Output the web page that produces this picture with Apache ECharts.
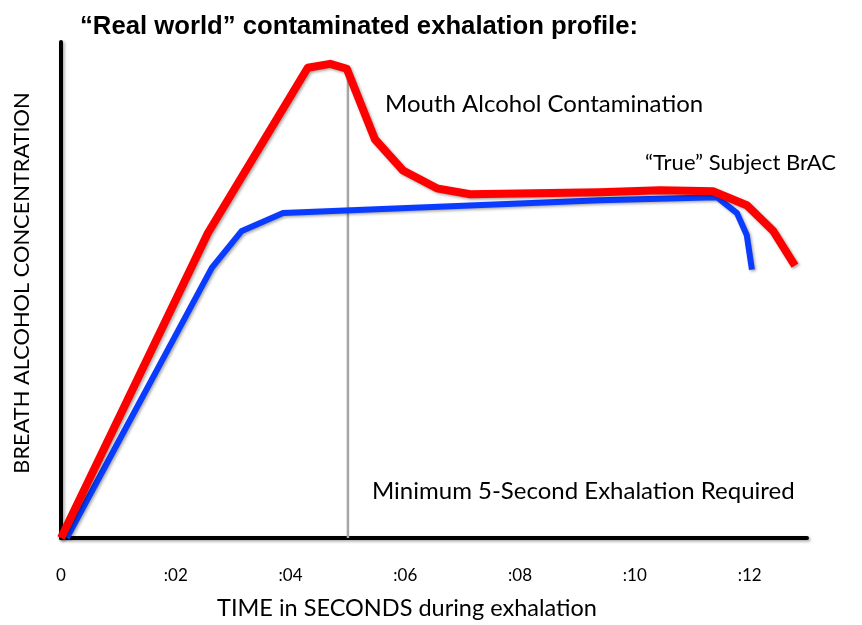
<!DOCTYPE html>
<html>
<head>
<meta charset="utf-8">
<script src="https://cdn.jsdelivr.net/npm/echarts@6/dist/echarts.min.js"></script>
<style>html,body{margin:0;padding:0;background:#fff}#c{width:862px;height:625px}</style>
</head>
<body>
<div id="c"></div>
<script>
// Time (s), concentration (relative units, 0-100)
const redTime = [0, 2.56, 4.30, 4.69, 4.98, 5.47, 5.96, 6.55, 7.13, 9.39, 10.44, 11.36, 11.95, 12.41, 12.79];
const redConc = [0, 61.5, 94.8, 95.6, 94.6, 80.4, 74.1, 70.5, 69.3, 69.7, 70.1, 69.9, 67.1, 61.9, 54.9];
const blueTime = [0.1, 2.63, 3.15, 3.87, 9.39, 11.43, 11.78, 11.95, 12.04];
const blueConc = [0, 54.5, 61.9, 65.5, 68.1, 68.7, 65.5, 61.1, 54.1];
const minTime = [5, 5];
const minConc = [0, 94.6];
const tickValues = [0, 2, 4, 6, 8, 10, 12];
const tickLabels = ['0', ':02', ':04', ':06', ':08', ':10', ':12'];

const zip = (a, b) => a.map((v, i) => [v, b[i]]);
const font = 'Lato, "Open Sans", sans-serif';
const shadow = {shadowColor: 'rgba(0,0,0,0.35)', shadowBlur: 3, shadowOffsetX: 1.5, shadowOffsetY: 1.5};

const chart = echarts.init(document.getElementById('c'));
chart.setOption({
  animation: false,
  backgroundColor: '#fff',
  title: {
    text: '\u201CReal world\u201D contaminated exhalation profile:',
    left: 75, top: 9,
    textStyle: {fontFamily: '"Liberation Sans Narrow", "Liberation Sans", Arial, sans-serif', fontWeight: 'bold', fontSize: 25.7, color: '#000'}
  },
  grid: {left: 61, right: 55, top: 42, bottom: 82},
  xAxis: {
    type: 'value', min: 0, max: 13, interval: 2,
    axisLine: {show: true, onZero: false, lineStyle: Object.assign({color: '#000', width: 4}, shadow)},
    axisTick: {show: false},
    splitLine: {show: false},
    axisLabel: {
      showMaxLabel: false, margin: 29, fontSize: 17, fontFamily: font, color: '#000',
      formatter: v => { const i = tickValues.indexOf(v); return i >= 0 ? tickLabels[i] : ''; }
    },
    name: 'TIME in SECONDS during exhalation',
    nameLocation: 'middle', nameGap: 58,
    nameTextStyle: {fontSize: 23.5, fontFamily: font, color: '#000', padding: [0, 54, 0, 0]}
  },
  yAxis: {
    type: 'value', min: 0, max: 100,
    axisLine: {show: true, onZero: false, lineStyle: Object.assign({color: '#000', width: 4}, shadow)},
    axisTick: {show: false},
    axisLabel: {show: false},
    splitLine: {show: false},
    name: 'BREATH ALCOHOL CONCENTRATION',
    nameLocation: 'middle', nameGap: 28, nameRotate: 90,
    nameTextStyle: {fontSize: 21.8, fontFamily: font, color: '#000', padding: [0, 0, 0, 14]}
  },
  series: [
    {
      type: 'line', data: zip(minTime, minConc), symbol: 'none', z: 1,
      lineStyle: {color: '#a6a6a6', width: 2.5}
    },
    {
      type: 'line', data: zip(blueTime, blueConc), symbol: 'none', z: 2,
      lineStyle: Object.assign({color: '#0a3cff', width: 6, join: 'round'}, shadow)
    },
    {
      type: 'line', data: zip(redTime, redConc), symbol: 'none', z: 3,
      lineStyle: Object.assign({color: '#ff0000', width: 8, join: 'round'}, shadow)
    }
  ],
  graphic: [
    {type: 'text', left: 385, top: 92, style: {text: 'Mouth Alcohol Contamination', font: '24px ' + font, fill: '#000'}},
    {type: 'text', left: 645, top: 152, style: {text: '\u201CTrue\u201D Subject BrAC', font: '22px ' + font, fill: '#000'}},
    {type: 'text', left: 372, top: 479, style: {text: 'Minimum 5-Second Exhalation Required', font: '24px ' + font, fill: '#000'}}
  ]
});
</script>
</body>
</html>
